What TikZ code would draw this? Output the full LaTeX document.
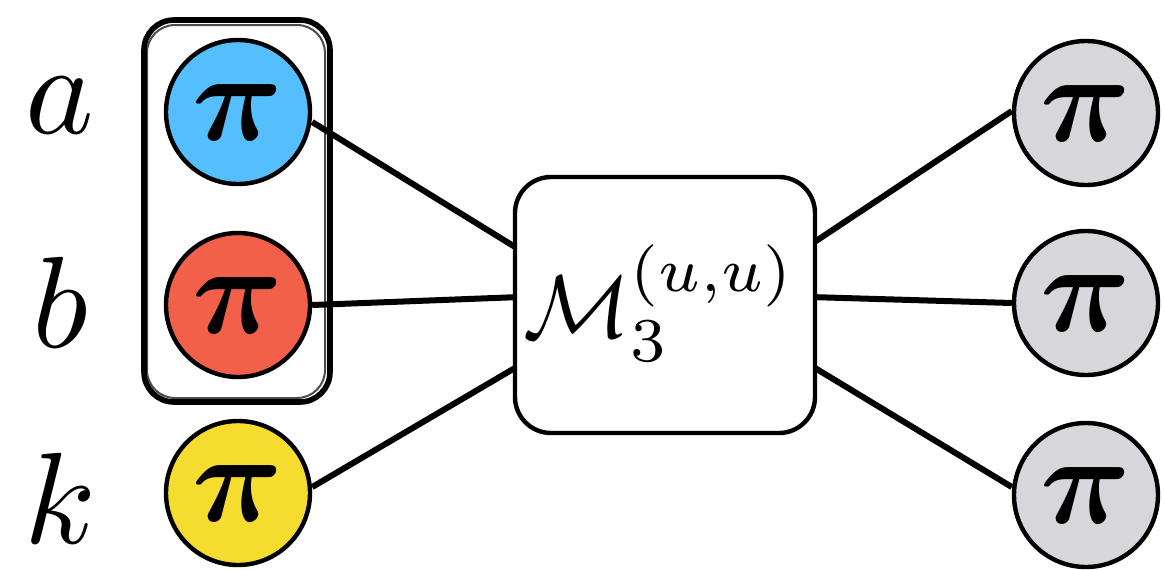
\documentclass[tikz,border=0pt]{standalone}
\usepackage{amsmath,bm}
\definecolor{piblue}{HTML}{55BFFD}
\definecolor{pired}{HTML}{F2604A}
\definecolor{piyellow}{HTML}{F6DC2E}
\definecolor{pigray}{HTML}{D7D6DB}
\newcommand{\bigpi}{\scalebox{6.3}{$\bm{\pi}$}}
\newcommand{\biglab}[1]{\scalebox{6.5}{$#1$}}
\begin{document}
\begin{tikzpicture}[x=0.5pt,y=-0.5pt,
  pinode/.style={circle,draw=black,line width=2.2pt,minimum size=72pt,inner sep=0pt},
  lab/.style={inner sep=0pt},
  conn/.style={line width=3pt},
  groupbox/.style={draw=black,line width=2.8pt,rounded corners=15pt},
  mbox/.style={draw=black,line width=2.2pt,rounded corners=18pt,minimum width=150pt,minimum height=128pt,fill=white,inner sep=0pt}]
\useasboundingbox (0,0) rectangle (1164,569);
% group box
\node[groupbox,minimum width=93pt,minimum height=191pt] (grp) at (237,211) {};
\draw[line width=1pt,rounded corners=14pt,opacity=0.7] (147,25) rectangle (325,398);
% pi nodes
\node[pinode,fill=piblue] (a) at (238,112) {\bigpi};
\node[pinode,fill=pired] (b) at (238,305) {\bigpi};
\node[pinode,fill=piyellow] (k) at (238,493) {\bigpi};
\node[pinode,fill=pigray] (o1) at (1086,113) {\bigpi};
\node[pinode,fill=pigray] (o2) at (1086,303) {\bigpi};
\node[pinode,fill=pigray] (o3) at (1086,495) {\bigpi};
% labels
\node[lab] (la) at (60,106) {\biglab{a}};
\node[lab] (lb) at (60,302) {\biglab{b}};
\node[lab] (lk) at (60,498) {\biglab{k}};
% connectors
\coordinate (Ma) at (520,250);
\coordinate (Mb) at (520,297);
\coordinate (Mk) at (520,365);
\coordinate (Mo1) at (810,245);
\coordinate (Mo2) at (810,297);
\coordinate (Mo3) at (810,365);
\draw[conn] (a.east) ++(0,10) coordinate (ae) -- (Ma);
\draw[conn] (b.east) -- (Mb);
\draw[conn] (k.east) ++(0,-6) coordinate (ke) -- (Mk);
\draw[conn] (o1.west) ++(0,-2) coordinate (o1w) -- (Mo1);
\draw[conn] (o2.west) -- (Mo2);
\draw[conn] (o3.west) ++(0,-8) coordinate (o3w) -- (Mo3);
% central box
\node[mbox] (M) at (665,305) {};
\node[inner sep=0pt] (Mt) at (660,303) {\scalebox{4.45}{$\mathcal{M}_3^{(u,u)}$}};
\end{tikzpicture}
\end{document}
